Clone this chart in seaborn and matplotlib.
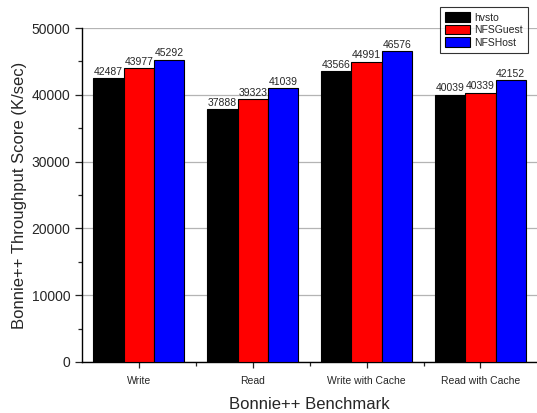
import matplotlib
matplotlib.use("Agg")
import matplotlib.pyplot as plt
from matplotlib.ticker import MultipleLocator, FixedLocator
import seaborn as sns
import pandas as pd

# Bonnie++ throughput per benchmark and storage setup
benchmarks = ["Write", "Read", "Write with Cache", "Read with Cache"]
setups = ["hvsto", "NFSGuest", "NFSHost"]
hvsto = [42487, 37888, 43566, 40039]
nfs_guest = [43977, 39323, 44991, 40339]
nfs_host = [45292, 41039, 46576, 42152]
colors = ["#000000", "#ff0000", "#0000ff"]

df = pd.DataFrame({
    "benchmark": benchmarks * 3,
    "setup": [s for s in setups for _ in benchmarks],
    "score": hvsto + nfs_guest + nfs_host,
})

sns.set_theme(style="ticks")
plt.rcParams["font.family"] = ["Liberation Sans", "DejaVu Sans"]

fig = plt.figure(figsize=(5.37, 4.13), dpi=100)
ax = fig.add_axes([0.1527, 0.1235, 0.848, 0.8085])

sns.barplot(data=df, x="benchmark", y="score", hue="setup", order=benchmarks,
            hue_order=setups, palette=colors, edgecolor="black", linewidth=0.8,
            width=0.8, saturation=1, ax=ax, zorder=3)

for c in ax.containers:
    ax.bar_label(c, fmt="%d", fontsize=7.5, padding=1)

ax.set_ylim(0, 50000)
ax.set_xlim(-0.5, 3.5)
ax.yaxis.set_major_locator(MultipleLocator(10000))
ax.yaxis.set_minor_locator(MultipleLocator(5000))
ax.xaxis.set_minor_locator(FixedLocator([0.5, 1.5, 2.5]))
ax.grid(axis="y", color="#b4b4b4", linewidth=0.9, zorder=0)
ax.set_axisbelow(True)

ax.tick_params(axis="y", which="major", labelsize=10, length=5, width=0.9, direction="out")
ax.tick_params(axis="x", which="major", labelsize=7.5, length=4, width=0.9, direction="out", pad=6)
ax.tick_params(which="minor", length=3, width=0.9, direction="out")

sns.despine(ax=ax, top=True, right=True)
for s in ["left", "bottom"]:
    ax.spines[s].set_linewidth(1.0)
    ax.spines[s].set_color("black")

ax.set_xlabel("Bonnie++ Benchmark", fontsize=12, labelpad=8)
ax.set_ylabel("Bonnie++ Throughput Score (K/sec)", fontsize=12, labelpad=3)

leg = ax.legend(loc="upper right", bbox_to_anchor=(0.983, 0.983), bbox_transform=fig.transFigure,
                fontsize=7.5, frameon=True, fancybox=False, edgecolor="black",
                handlelength=2.4, handleheight=1.05, handletextpad=0.35, borderpad=0.5,
                labelspacing=0.2, borderaxespad=0)
leg.get_frame().set_linewidth(0.8)

fig.savefig("out.png", dpi=100)
